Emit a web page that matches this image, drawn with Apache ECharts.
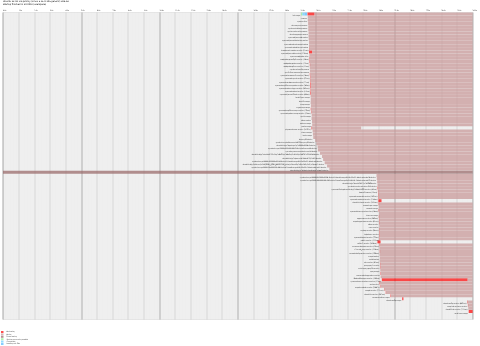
<!DOCTYPE html>
<html>
<head>
<meta charset="utf-8">
<script src="https://cdn.jsdelivr.net/npm/echarts@6/dist/echarts.min.js"></script>
<style>
  html, body { margin: 0; padding: 0; background: #fff; }
  #chart { width: 480px; height: 346px; }
</style>
</head>
<body>
<div id="chart"></div>
<script>
// Boot timeline: one row per unit, time in seconds since boot.
const headerLines = [
  'Ubuntu 22.04 LTS jammy (Linux 5.15.0-105-generic) x86-64',
  'Startup finished in 30.000s (userspace)'
];
const finishTime = 30.0;

const unitNames = [
  'init.scope', '-.mount', 'system.slice', 'dev-mqueue.mount', 'sys-kernel-debug.mount',
  'sys-kernel-tracing.mount', 'dev-hugepages.mount', 'systemd-journald.socket',
  'systemd-journald-dev-log.socket', 'systemd-udevd-control.socket', 'systemd-udevd-kernel.socket',
  'kmod-static-nodes.service (19ms)', 'systemd-journald.service (126ms)', 'system-modprobe.slice',
  'modprobe@configfs.service (14ms)', 'modprobe@drm.service (21ms)', 'modprobe@fuse.service (11ms)',
  'sys-kernel-config.mount', 'sys-fs-fuse-connections.mount', 'systemd-remount-fs.service (28ms)',
  'systemd-sysctl.service (17ms)', 'systemd-random-seed.service (22ms)',
  'systemd-tmpfiles-setup-dev.service (36ms)', 'systemd-udev-trigger.service (143ms)',
  'systemd-udevd.service (91ms)', 'systemd-journal-flush.service (64ms)', 'local-fs-pre.target',
  'local-fs.target', 'swap.target', 'cryptsetup.target', 'systemd-tmpfiles-setup.service (25ms)',
  'systemd-update-utmp.service (13ms)', 'sysinit.target', 'dbus.socket', 'sockets.target',
  'paths.target', 'plymouth-start.service (3.151s)', 'timers.target', 'basic.target',
  'dev-ttyS0.device', 'sys-devices-platform-serial8250-tty-ttyS0.device',
  'dev-disk-by\\x2dpath-pci\\x2d0000:00:04.0.device',
  'sys-devices-pci0000:00-0000:00:03.0-virtio0-net-eth0.device',
  'sys-subsystem-net-devices-eth0.device',
  'dev-disk-by\\x2duuid-6e2f9c1a\\x2d4d7b\\x2d4a3e\\x2db1c0\\x2d8f5e2d7a9b34.device',
  'dev-disk-by\\x2dpartuuid-1b8c4e2f\\x2d01.device',
  'sys-devices-pci0000:00-0000:00:04.0-virtio1-host0-target0:0:0-0:0:0:1-block-sda.device',
  'dev-disk-by\\x2did-scsi\\x2d0QEMU_QEMU_HARDDISK_drive\\x2dscsi0\\x2d0\\x2d0\\x2d1\\x2dpart1.device',
  'sys-devices-pci0000:00-0000:00:04.0-virtio1-host0-target0:0:0-0:0:0:1-block-sda-sda1.device',
  'dev-disk-by\\x2dlabel-cloudimg\\x2drootfs.device',
  '',
  'sys-devices-pci0000:00-0000:00:04.0-virtio1-host0-target0:0:0-0:0:0:1-block-sda-sda14.device',
  'sys-devices-pci0000:00-0000:00:04.0-virtio1-host0-target0:0:0-0:0:0:1-block-sda-sda15.device',
  'dev-disk-by\\x2duuid-3A1C\\x2d9E4F.device', 'sys-devices-virtual-misc-rfkill.device',
  'systemd-fsck@dev-disk-by\\x2dlabel-UEFI.service (41ms)', 'boot-efi.mount (19ms)',
  'systemd-networkd.service (187ms)', 'systemd-resolved.service (214ms)',
  'cloud-init-local.service (201ms)', 'network-pre.target', 'network.target',
  'systemd-timesyncd.service (98ms)', 'time-set.target', 'apparmor.service (345ms)',
  'snapd.apparmor.service (61ms)', 'dbus.service', 'cron.service', 'rsyslog.service (38ms)',
  'irqbalance.service', 'systemd-logind.service (77ms)', 'polkit.service (112ms)',
  'udisks2.service (264ms)', 'accounts-daemon.service (93ms)', 'e2scrub_reap.service (128ms)',
  'networkd-dispatcher.service (156ms)', 'snapd.socket', 'uuidd.socket', 'ssh.service (61ms)',
  'getty@tty1.service', 'serial-getty@ttyS0.service', 'getty.target', 'unattended-upgrades.service',
  'ModemManager.service (143ms)', 'systemd-user-sessions.service (12ms)', 'atd.service',
  'snapd.seeded.service (5.482s)', 'snapd.service (221ms)', 'cloud-init.service (302ms)',
  'network-online.target', 'cloud-config.target', 'cloud-config.service (487ms)',
  'snap.lxd.activate.service', 'cloud-final.service (211ms)', 'multi-user.target',
  'graphical.target', 'systemd-update-utmp-runlevel.service (167ms)'
];

// seconds: when each unit started activating
const activatingAt = [
  19.45, 19.47, 19.47, 19.49, 19.50, 19.50, 19.52, 19.52, 19.53, 19.55,
  19.55, 19.56, 19.55, 19.57, 19.58, 19.58, 19.60, 19.60, 19.61, 19.60,
  19.62, 19.61, 19.63, 19.62, 19.64, 19.63, 19.65, 19.66, 19.65, 19.67,
  19.66, 19.70, 19.72, 19.71, 19.74, 19.75, 19.70, 19.78, 19.80, 19.82,
  19.95, 20.02, 20.10, 20.12, 20.25, 20.38, 20.45, 20.55, 20.70, 20.85,
  0.00,
  23.86, 23.88, 23.90, 23.92, 23.93, 23.95, 23.96, 23.98, 23.98, 24.00, 24.01,
  24.00, 24.02, 24.01, 24.03, 24.02, 24.04, 24.03, 24.05, 24.04, 24.05,
  23.92, 24.06, 24.05, 24.07, 24.06, 24.08, 24.07, 24.09, 24.10, 24.10,
  24.12, 24.12, 24.20, 24.05, 24.10, 24.35, 24.45, 24.75,
  25.50, 29.65, 29.70, 29.72, 29.75
];

// seconds: when each unit became active (end of the red segment)
const activeAt = [
  19.90, 19.47, 19.47, 19.49, 19.50, 19.50, 19.52, 19.52, 19.53, 19.55,
  19.55, 19.58, 19.75, 19.57, 19.59, 19.60, 19.61, 19.60, 19.61, 19.63,
  19.64, 19.63, 19.67, 19.66, 19.66, 19.67, 19.65, 19.66, 19.65, 19.67,
  19.68, 19.71, 19.72, 19.71, 19.74, 19.75, 19.73, 19.78, 19.80, 19.82,
  19.95, 20.02, 20.10, 20.12, 20.25, 20.38, 20.45, 20.55, 20.70, 20.85,
  0.00,
  23.86, 23.88, 23.90, 23.92, 23.95, 23.96, 23.98, 24.00, 24.18, 24.02, 24.01,
  24.01, 24.02, 24.02, 24.05, 24.03, 24.04, 24.04, 24.06, 24.05, 24.07,
  24.12, 24.07, 24.05, 24.08, 24.06, 24.08, 24.07, 24.10, 24.11, 24.10,
  24.13, 24.12, 29.68, 24.06, 24.12, 24.36, 24.47, 24.78,
  25.58, 29.68, 29.71, 29.72, 30.00
];

// seconds: when a unit went inactive again; null = still active at the end
const inactiveAt = [
  null, null, null, null, null, null, null, null, null, null,
  null, null, null, null, null, null, null, null, null, null,
  null, null, null, null, null, null, null, null, null, null,
  null, null, null, null, null, null, 22.88, null, null, null,
  null, null, null, null, null, null, null, null, null, null,
  null,
  null, null, null, null, null, null, null, null, 24.18, null, null,
  null, null, null, null, null, null, null, null, null, null,
  24.12, null, null, null, null, null, null, null, null, null,
  null, null, null, null, null, null, null, null,
  25.58, null, null, null, null
];

// rows drawn with the "deactivating" colour across the whole run
const deactivatingRows = [50];
const deactivatingFrom = [0.0];

// manager start-up phases on the first row
const securitySpan = [19.04, 19.12];
const generatorsSpan = [19.12, 19.27];
const unitsLoadSpan = [19.27, 19.42];

const legendNames = ['Activating', 'Active', 'Deactivating', 'Setting up security module', 'Generators', 'Loading unit files'];
const legendColors = [
  'rgba(255,0,0,0.7)', 'rgba(200,150,150,0.7)', 'rgba(150,100,100,0.7)',
  'rgba(144,238,144,0.7)', 'rgba(102,204,255,0.7)', 'rgba(82,184,255,0.7)'
];

// ---- build bar lists: [row, from, to] ----
const rowIds = unitNames.map((_, i) => String(i));
const activatingBars = [], activeBars = [], deactivatingBars = [];
unitNames.forEach((_, i) => {
  if (deactivatingRows.includes(i)) return;
  const a = activatingAt[i], b = activeAt[i];
  const end = inactiveAt[i] === null ? finishTime : inactiveAt[i];
  if (b > a) activatingBars.push([i, a, b]);
  if (end > b) activeBars.push([i, b, end]);
});
deactivatingRows.forEach((r, k) => deactivatingBars.push([r, deactivatingFrom[k], finishTime]));
const labelRows = unitNames.map((name, i) => [i, i === 0 ? securitySpan[0] : activatingAt[i], name]);

const chart = echarts.init(document.getElementById('chart'), null, { renderer: 'canvas' });

function barSeries(name, color, data) {
  return {
    name, type: 'custom', data, encode: { x: [1, 2], y: 0 },
    itemStyle: { color },
    renderItem(params, api) {
      const row = api.value(0);
      const p0 = api.coord([api.value(1), row]);
      const p1 = api.coord([api.value(2), row]);
      const band = api.size([0, 1])[1];
      return {
        type: 'rect',
        shape: { x: p0[0], y: p0[1] - band / 2, width: Math.max(p1[0] - p0[0], 0.4), height: band * 0.95 },
        style: { fill: color }
      };
    }
  };
}

const series = [
  barSeries(legendNames[0], legendColors[0], activatingBars),
  barSeries(legendNames[1], legendColors[1], activeBars),
  barSeries(legendNames[2], legendColors[2], deactivatingBars),
  barSeries(legendNames[3], legendColors[3], [[0, securitySpan[0], securitySpan[1]]]),
  barSeries(legendNames[4], legendColors[4], [[0, generatorsSpan[0], generatorsSpan[1]]]),
  barSeries(legendNames[5], legendColors[5], [[0, unitsLoadSpan[0], unitsLoadSpan[1]]]),
  {
    name: 'unit names', type: 'custom', data: labelRows, encode: { x: 1, y: 0 },
    silent: true,
    renderItem(params, api) {
      const row = api.value(0);
      const t = api.value(1);
      const p = api.coord([t, row]);
      const band = api.size([0, 1])[1];
      const leftSide = t < finishTime / 2;
      return {
        type: 'text',
        style: {
          x: p[0] + (leftSide ? 0.8 : -0.8), y: p[1] - band / 2 + band * 0.7,
          text: labelRows[params.dataIndex][2],
          align: leftSide ? 'left' : 'right', verticalAlign: 'alphabetic',
          fill: '#000', font: '1.6px "DejaVu Sans"'
        }
      };
    }
  }
];

chart.setOption({
  animation: false,
  backgroundColor: '#fff',
  graphic: headerLines.map((line, i) => ({
    type: 'text', left: 3, top: 0.8 + i * 2.6,
    style: { text: line, fill: '#000', font: '2.2px "DejaVu Sans"' }
  })),
  grid: {
    left: 2, right: 6, top: 12.5, bottom: 26.5,
    show: true, backgroundColor: 'rgb(240,240,240)', borderColor: 'rgb(192,192,192)', borderWidth: 0.3
  },
  legend: {
    data: legendNames, orient: 'vertical', left: 1, top: 331,
    itemWidth: 2.5, itemHeight: 2, itemGap: 0.4, icon: 'rect',
    textStyle: { fontSize: 1.6, fontFamily: 'DejaVu Sans', color: '#000', padding: [0, 0, 0, -2] },
    padding: 0, selectedMode: false
  },
  xAxis: [
    {
      type: 'value', position: 'top', min: 0, max: finishTime, interval: 1,
      axisLine: { show: false }, axisTick: { show: false },
      axisLabel: { fontSize: 1.6, fontFamily: 'DejaVu Sans', color: '#000', margin: 1, align: 'left',
                   formatter: v => v.toFixed(1) + 's' },
      splitLine: { show: true, lineStyle: { color: 'rgb(64,64,64)', width: 0.16 } },
      minorTick: { show: false, splitNumber: 10 },
      minorSplitLine: { show: true, lineStyle: { color: 'rgb(224,224,224)', width: 0.16 } }
    },
    {
      type: 'value', position: 'top', min: 0, max: finishTime, interval: 5,
      axisLine: { show: false }, axisTick: { show: false }, axisLabel: { show: false },
      splitLine: { show: true, lineStyle: { color: 'rgb(64,64,64)', width: 0.24 } }
    }
  ],
  yAxis: {
    type: 'category', data: rowIds, inverse: true, show: false,
    axisLine: { show: false }, splitLine: { show: false }
  },
  series
});
</script>
</body>
</html>
